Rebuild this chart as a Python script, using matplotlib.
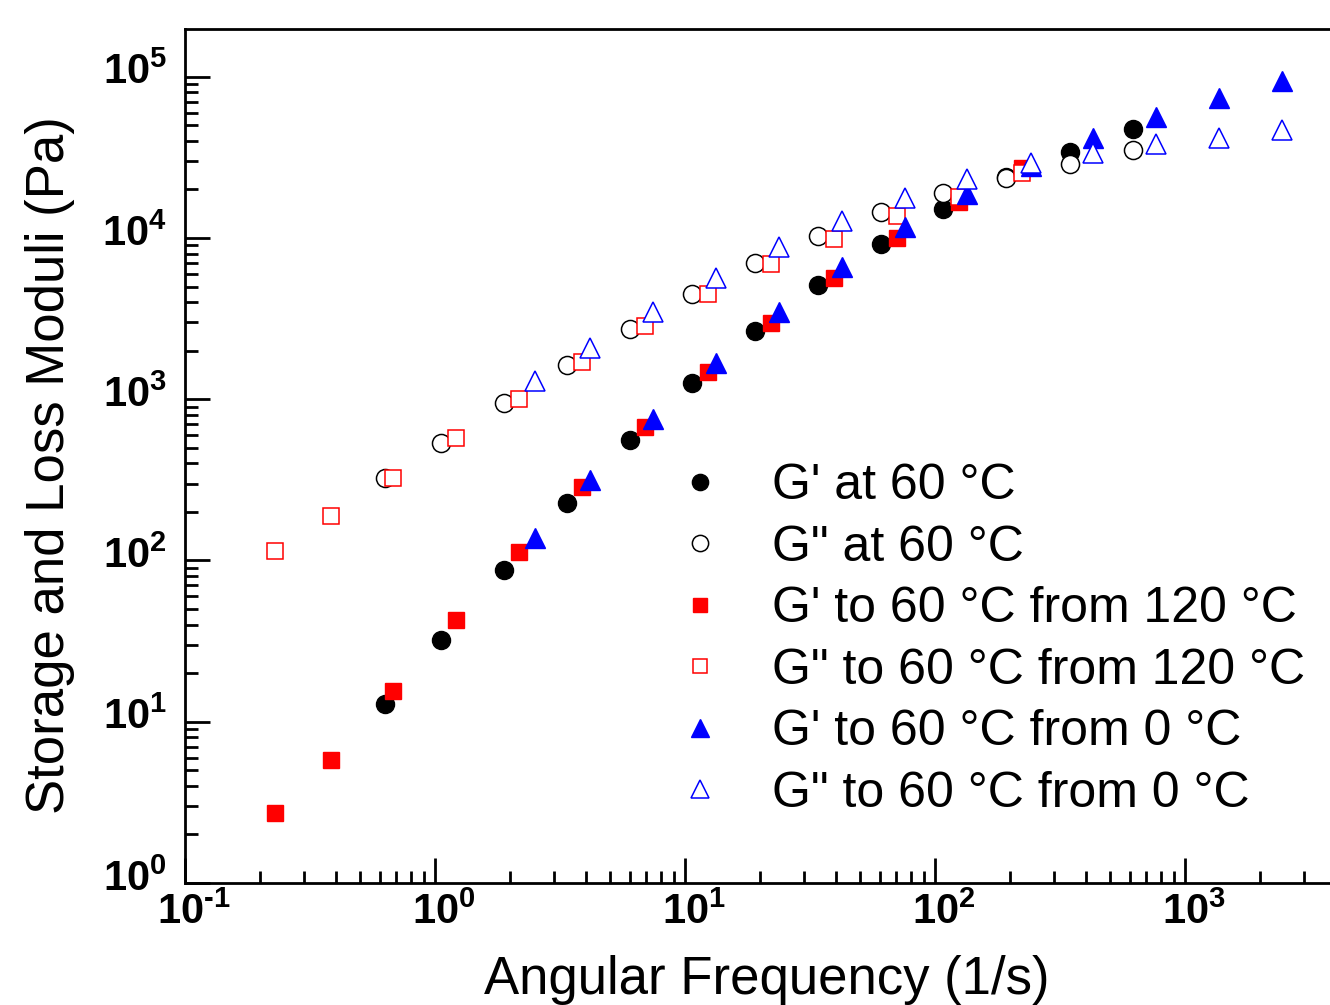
import numpy as np
import matplotlib
matplotlib.use("Agg")
import matplotlib.pyplot as plt
import matplotlib.transforms as mtransforms
from matplotlib.ticker import LogLocator, FuncFormatter, NullFormatter

plt.rcParams['font.family'] = 'Liberation Sans'
plt.rcParams['mathtext.fontset'] = 'custom'
plt.rcParams['mathtext.rm'] = 'Liberation Sans'
plt.rcParams['mathtext.bf'] = 'Liberation Sans:bold'

# angular frequency (1/s) and moduli (Pa)
w_60 = [0.63, 1.06, 1.89, 3.37, 6.0, 10.7, 19.0, 34.0, 60.8, 108, 192, 347, 619]
gp_60 = [12.9, 32.1, 87, 227, 557, 1258, 2640, 5100, 9170, 15100, 23800, 34000, 47300]
gpp_60 = [325, 535, 942, 1626, 2718, 4477, 6950, 10260, 14460, 19140, 23660, 28900, 35170]

w_120 = [0.230, 0.384, 0.682, 1.218, 2.174, 3.87, 6.94, 12.4, 22.1, 39.4, 70.3, 124.4, 222.8]
gp_120 = [2.70, 5.79, 15.5, 42.7, 113, 284, 674, 1479, 2978, 5660, 9930, 16760, 27100]
gpp_120 = [114, 188, 327, 579, 1006, 1706, 2838, 4500, 6850, 9860, 13640, 17980, 25330]

w_0 = [2.51, 4.18, 7.43, 13.3, 23.7, 42.4, 75.9, 134.6, 242, 430, 768, 1371, 2449]
gp_0 = [138, 315, 753, 1682, 3485, 6620, 11720, 18840, 28000, 41780, 56380, 73300, 93800]
gpp_0 = [1300, 2083, 3493, 5660, 8735, 12760, 17820, 23370, 28970, 33420, 38170, 41800, 47000]

labels = ["G' at 60 \u00b0C", 'G" at 60 \u00b0C',
          "G' to 60 \u00b0C from 120 \u00b0C", 'G" to 60 \u00b0C from 120 \u00b0C',
          "G' to 60 \u00b0C from 0 \u00b0C", 'G" to 60 \u00b0C from 0 \u00b0C']

fig = plt.figure(figsize=(13.3, 10.05), dpi=100)
# the original is cropped on the right: axes runs to the figure edge
ax = fig.add_axes([185 / 1330, 122 / 1005, 1145 / 1330, 854 / 1005])

ax.plot(w_60, gp_60, 'o', ms=13, color='black', mec='black', label=labels[0])
ax.plot(w_60, gpp_60, 'o', ms=13, mfc='white', mec='black', mew=1.1, label=labels[1])
ax.plot(w_120, gp_120, 's', ms=11.5, color='red', mec='red', label=labels[2])
ax.plot(w_120, gpp_120, 's', ms=11.5, mfc='white', mec='red', mew=1.1, label=labels[3])
ax.plot(w_0, gp_0, '^', ms=15, color='blue', mec='blue', label=labels[4])
ax.plot(w_0, gpp_0, '^', ms=15, mfc='white', mec='blue', mew=1.1, label=labels[5])

ax.set_xscale('log')
ax.set_yscale('log')
ax.set_xlim(0.1, 10 ** 3.58)
ax.set_ylim(1, 10 ** 5.296)


def pow_fmt(v, pos):
    e = int(round(np.log10(v)))
    s = str(e).replace('-', '\u2010')
    return r'$\mathbf{10}^{\mathbf{%s}}$' % s


for axis in (ax.xaxis, ax.yaxis):
    axis.set_major_locator(LogLocator(base=10, numticks=20))
    axis.set_minor_locator(LogLocator(base=10, subs=np.arange(2, 10), numticks=20))
    axis.set_major_formatter(FuncFormatter(pow_fmt))
    axis.set_minor_formatter(NullFormatter())

ax.tick_params(which='both', direction='in', top=False, right=False, width=2)
ax.tick_params(which='major', length=18, labelsize=30)
ax.tick_params(which='minor', length=9)
ax.tick_params(axis='x', which='major', pad=7)
ax.tick_params(axis='y', which='major', pad=13)
for sp in ax.spines.values():
    sp.set_linewidth(2)
ax.spines['right'].set_visible(False)

xoff = mtransforms.ScaledTranslation(9 / 100, 0, fig.dpi_scale_trans)
for lbl in ax.get_xticklabels():
    lbl.set_transform(lbl.get_transform() + xoff)
yoff = mtransforms.ScaledTranslation(0, 8 / 100, fig.dpi_scale_trans)
for lbl in ax.get_yticklabels():
    lbl.set_transform(lbl.get_transform() + yoff)

ax.set_xlabel('Angular Frequency (1/s)', fontsize=38)
ax.xaxis.set_label_coords(767 / 1145 - 185 / 1145, -0.084)
ax.set_ylabel('Storage and Loss Moduli (Pa)', fontsize=38)
ax.yaxis.set_label_coords(-110 / 1145, 0.489)

ax.legend(loc='upper left', bbox_to_anchor=(674 / 1330, 1 - 463 / 1005),
          bbox_transform=fig.transFigure, frameon=False, fontsize=36,
          handlelength=1.05, handletextpad=0.92, labelspacing=0.31,
          borderpad=0, borderaxespad=0, markerscale=0.9)

fig.savefig('out.png', dpi=100)
